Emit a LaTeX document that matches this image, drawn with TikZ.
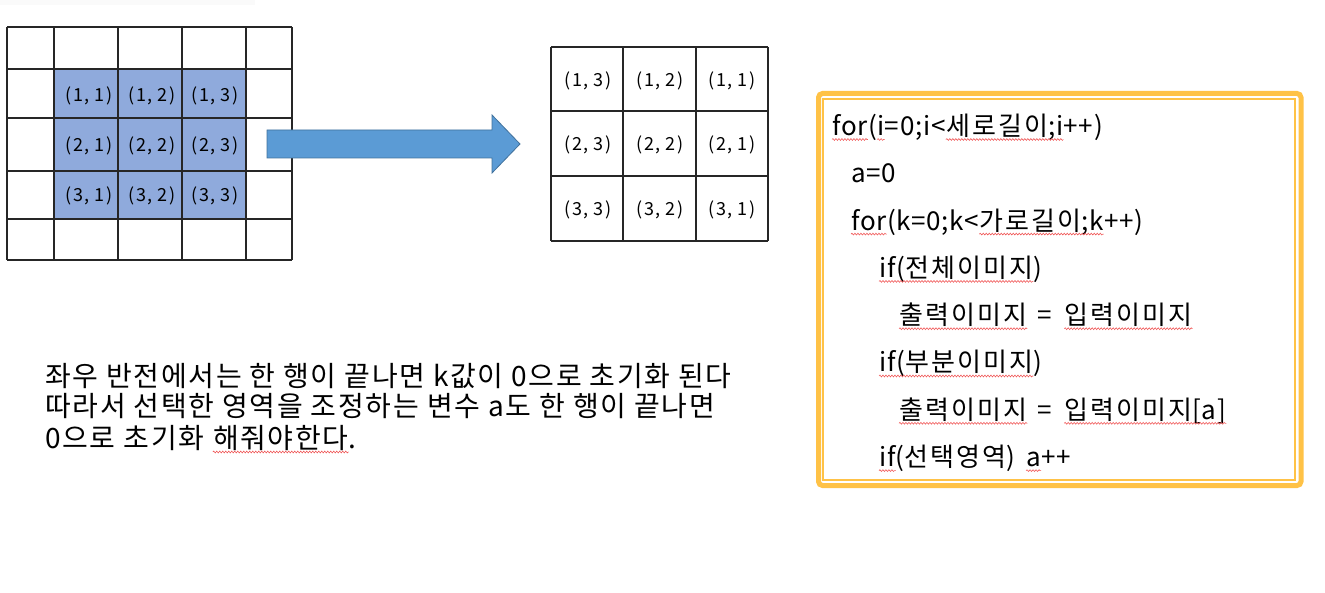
\documentclass[tikz,border=0pt]{standalone}
\usepackage{fontspec}
\setmainfont{Noto Sans CJK KR}
\newfontfamily\codefont[LetterSpace=3]{Noto Sans CJK KR}
\newfontfamily\korfont[LetterSpace=8]{Noto Sans CJK KR}
\newfontfamily\cellfont[LetterSpace=8]{Noto Sans CJK KR}
\newfontfamily\notefont[LetterSpace=6]{Noto Sans CJK KR}
\newcommand\kr[1]{{\korfont #1}}
\usetikzlibrary{decorations.pathmorphing}
\definecolor{wavered}{RGB}{240,90,90}
\definecolor{selblue}{RGB}{143,170,220}
\definecolor{arrowblue}{RGB}{91,155,213}
\definecolor{arrowedge}{RGB}{65,113,156}
\definecolor{boxyellow}{RGB}{255,194,70}
\tikzset{
  gridline/.style={line width=1.2pt, draw=black!85},
  celltext/.style={font=\cellfont\fontsize{18}{20}\selectfont, inner sep=0pt},
  codeline/.style={anchor=base west, inner sep=0pt, font=\codefont\fontsize{26}{28}\selectfont},
  noteline/.style={anchor=base west, inner sep=0pt, font=\notefont\fontsize{28}{30}\selectfont},
  squig/.style={draw=wavered, line width=0.6pt, decorate,
    decoration={snake, amplitude=0.9pt, segment length=3pt}},
}
\newcommand\sq[1]{\draw[squig] ([yshift=-4pt]#1.base west) -- ([yshift=-4pt]#1.base east);}
\begin{document}
\begin{tikzpicture}[x=1pt,y=-1pt]
\useasboundingbox (0,0) rectangle (1325,593);
\fill[black!2] (0,0) rectangle (255,5);
% left grid
\fill[selblue] (54,69) rectangle (246,219);
\foreach \x in {7,54,118,182,246,292} \draw[gridline] (\x,27) -- (\x,260);
\foreach \y in {27,69,118,171,219,260} \draw[gridline] (7,\y) -- (292,\y);
\foreach \r/\yy in {1/96,2/146,3/196}{
  \foreach \c/\xx in {1/89,2/152,3/215}{
    \node[celltext] (L\r\c) at (\xx,\yy) {(\r,\kern0.3em\c)};
  }
}
% arrow
\draw[fill=arrowblue, draw=arrowedge, line width=0.8pt]
  (267,130) -- (492,130) -- (492,115) -- (520,144) -- (492,173) -- (492,158) -- (267,158) -- cycle;
% right grid
\foreach \x in {551,623,696,768} \draw[gridline] (\x,47) -- (\x,241);
\foreach \y in {47,111,176,241} \draw[gridline] (551,\y) -- (768,\y);
\foreach \r/\yy in {1/81,2/145,3/210}{
  \foreach \c/\xx/\m in {1/588/3,2/660/2,3/732/1}{
    \node[celltext] (R\r\c) at (\xx,\yy) {(\r,\kern0.3em\m)};
  }
}
% code box
\draw[boxyellow, line width=5pt, rounded corners=4pt] (818.5,93.5) rectangle (1301,485.5);
\draw[boxyellow, line width=2pt] (823,99) rectangle (1295,479.5);
% line 1
\node[codeline] (c1a) at (832,135.5) {for};
\node[codeline] (c1b) at (c1a.base east) {(};
\node[codeline] (c1c) at (c1b.base east) {i};
\node[codeline] (c1d) at (c1c.base east) {=0;i<};
\node[codeline] (c1e) at (c1d.base east) {\kr{세로길이};i};
\node[codeline] (c1f) at (c1e.base east) {++)};
\sq{c1a}\sq{c1c}\sq{c1e}
% line 2
\node[codeline] (c2) at (851,182.8) {a=0};
% line 3
\node[codeline] (c3a) at (851,230.1) {for};
\node[codeline] (c3b) at (c3a.base east) {(};
\node[codeline] (c3c) at (c3b.base east) {k};
\node[codeline] (c3d) at (c3c.base east) {=0;k<};
\node[codeline] (c3e) at (c3d.base east) {\kr{가로길이};k};
\node[codeline] (c3f) at (c3e.base east) {++)};
\sq{c3a}\sq{c3e}
% line 4
\node[codeline] (c4a) at (879,277.4) {if(\kr{전체이미지}};
\node[codeline] (c4b) at (c4a.base east) {)};
\sq{c4a}
% line 5
\node[codeline] (c5a) at (899,324.7) {\kr{출력이미지}};
\node[codeline] (c5b) at (c5a.base east) {\kern0.4em=\kern0.45em};
\node[codeline] (c5c) at (c5b.base east) {\kr{입력이미지}};
\sq{c5a}\sq{c5c}
% line 6
\node[codeline] (c6a) at (879,372) {if(\kr{부분이미지}};
\node[codeline] (c6b) at (c6a.base east) {)};
\sq{c6a}
% line 7
\node[codeline] (c7a) at (899,419.3) {\kr{출력이미지}};
\node[codeline] (c7b) at (c7a.base east) {\kern0.4em=\kern0.45em};
\node[codeline] (c7c) at (c7b.base east) {\kr{입력이미지}[a]};
\sq{c7a}\sq{c7c}
% line 8
\node[codeline] (c8a) at (879,466.6) {if};
\node[codeline] (c8b) at (c8a.base east) {(\kr{선택영역})\kern0.4em};
\node[codeline] (c8c) at (c8b.base east) {a};
\node[codeline] (c8d) at (c8c.base east) {++};
\sq{c8a}\sq{c8c}
% note
\node[noteline] (n1) at (45,386) {좌우 반전에서는 한 행이 끝나면 k값이 0으로 초기화 된다};
\node[noteline] (n2) at (45,417) {따라서 선택한 영역을 조정하는 변수 a도 한 행이 끝나면};
\node[noteline] (n3a) at (45,448) {0으로 초기화\kern0.3em};
\node[noteline] (n3b) at (n3a.base east) {해줘야한다};
\node[noteline] (n3c) at (n3b.base east) {.};
\sq{n3b}
\end{tikzpicture}
\end{document}
